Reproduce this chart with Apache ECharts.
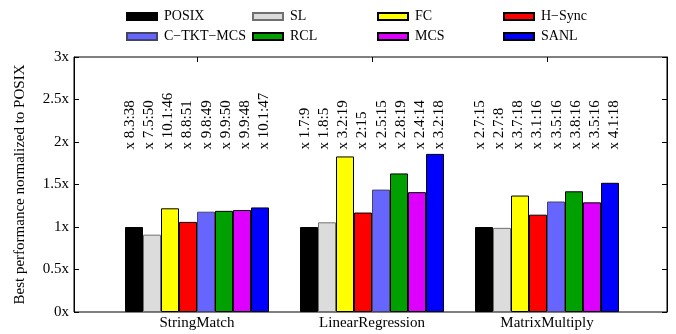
<!DOCTYPE html>
<html>
<head>
<meta charset="utf-8">
<script src="https://cdn.jsdelivr.net/npm/echarts@6/dist/echarts.min.js"></script>
<style>html,body{margin:0;padding:0;background:#fff}#c{width:676px;height:334px}</style>
</head>
<body>
<div id="c"></div>
<script>
const categories = ['StringMatch', 'LinearRegression', 'MatrixMultiply'];
const seriesNames = ['POSIX', 'SL', 'FC', 'H\u2212Sync', 'C\u2212TKT\u2212MCS', 'RCL', 'MCS', 'SANL'];
const posix   = [1.00, 1.00, 1.00];
const sl      = [0.91, 1.055, 0.99];
const fc      = [1.22, 1.83, 1.37];
const hsync   = [1.06, 1.17, 1.145];
const ctktmcs = [1.18, 1.44, 1.30];
const rcl     = [1.19, 1.63, 1.42];
const mcs     = [1.20, 1.41, 1.29];
const sanl    = [1.23, 1.86, 1.52];
const yTicks = [0, 0.5, 1, 1.5, 2, 2.5, 3];
// annotation texts per series, per category
const annPosix   = ['x 8.3:38', 'x 1.7:9', 'x 2.7:15'];
const annSl      = ['x 7.5:50', 'x 1.8:5', 'x 2.7:8'];
const annFc      = ['x 10.1:46', 'x 3.2:19', 'x 3.7:18'];
const annHsync   = ['x 8.8:51', 'x 2:15', 'x 3.1:16'];
const annCtkt    = ['x 9.8:49', 'x 2.5:15', 'x 3.5:16'];
const annRcl     = ['x 9.9:50', 'x 2.8:19', 'x 3.8:16'];
const annMcs     = ['x 9.9:48', 'x 2.4:14', 'x 3.5:16'];
const annSanl    = ['x 10.1:47', 'x 3.2:18', 'x 4.1:18'];

const values = [posix, sl, fc, hsync, ctktmcs, rcl, mcs, sanl];
const anns = [annPosix, annSl, annFc, annHsync, annCtkt, annRcl, annMcs, annSanl];
const colors = ['#000000', '#dcdcdc', '#ffff00', '#ff0000', '#6666ff', '#00a000', '#dd00ff', '#0000ff'];
const borders = ['#000000', '#707070', '#000000', '#000000', '#444466', '#000000', '#000000', '#000000'];
const LABEL_BASE = 1.9;
const FONT = 'Liberation Serif';

const chart = echarts.init(document.getElementById('c'), null, {renderer: 'canvas'});

const series = [];
values.forEach((v, i) => {
  series.push({
    name: seriesNames[i], type: 'bar', xAxisIndex: 1, yAxisIndex: 2,
    data: v, barWidth: 18, barGap: '0%',
    itemStyle: {color: colors[i], borderColor: borders[i], borderWidth: 1},
    emphasis: {disabled: true}, animation: false
  });
});
anns.forEach((a, i) => {
  series.push({
    name: 'ann' + i, type: 'bar', xAxisIndex: 3, yAxisIndex: 2,
    data: a.map(t => ({value: LABEL_BASE, label: {formatter: t}})),
    barWidth: 19.2, barGap: '0%',
    itemStyle: {color: 'rgba(0,0,0,0)', borderWidth: 0},
    label: {show: true, position: 'top', distance: 1, rotate: 90, align: 'left', verticalAlign: 'middle',
            color: '#000', fontFamily: FONT, fontSize: 15},
    emphasis: {disabled: true}, silent: true, animation: false
  });
});

const legendCols = [[0, 4], [1, 5], [2, 6], [3, 7]];
const legendLefts = [126, 252, 377, 503];
const legends = legendCols.map((c, k) => ({
  left: legendLefts[k], top: 9.5, padding: 0, orient: 'vertical', itemWidth: 30, itemHeight: 7, itemGap: 6,
  icon: 'rect', selectedMode: false,
  data: c.map(i => seriesNames[i]),
  textStyle: {fontFamily: FONT, fontSize: 14, color: '#000', padding: [0, 0, 0, 2]}
}));

chart.setOption({
  animation: false,
  textStyle: {fontFamily: FONT},
  legend: legends,
  grid: [
    {left: 74, right: 9, top: 57, bottom: 22, show: true, borderColor: '#000', borderWidth: 1, backgroundColor: 'transparent'},
    {left: 109.5, right: 41.5, top: 57, bottom: 22}
  ],
  xAxis: [
    {gridIndex: 0, type: 'value', min: 0, max: 1, show: false},
    {gridIndex: 1, type: 'category', data: categories, position: 'bottom',
     axisLine: {show: false}, axisTick: {show: false},
     axisLabel: {margin: 4, color: '#000', fontFamily: FONT, fontSize: 15}},
    {gridIndex: 1, type: 'category', data: categories, position: 'top',
     axisLine: {show: false}, axisLabel: {show: false},
     axisTick: {show: true, inside: true, length: 5, alignWithLabel: true, lineStyle: {color: '#000'}}},
    {gridIndex: 1, type: 'category', data: categories, show: false}
  ],
  yAxis: [
    {gridIndex: 0, type: 'value', min: 0, max: 3, interval: 0.5, position: 'left',
     name: 'Best performance normalized to POSIX', nameLocation: 'middle', nameGap: 46,
     nameTextStyle: {fontFamily: FONT, fontSize: 15, color: '#000'},
     axisLine: {show: true, lineStyle: {color: '#000'}},
     axisTick: {show: true, inside: true, length: 5, lineStyle: {color: '#000'}},
     splitLine: {show: false},
     axisLabel: {margin: 5, color: '#000', fontFamily: FONT, fontSize: 15, formatter: v => v + 'x'}},
    {gridIndex: 0, type: 'value', min: 0, max: 3, interval: 0.5, position: 'right',
     axisLine: {show: true, lineStyle: {color: '#000'}},
     axisTick: {show: true, inside: true, length: 5, lineStyle: {color: '#000'}},
     splitLine: {show: false}, axisLabel: {show: false}},
    {gridIndex: 1, type: 'value', min: 0, max: 3, show: false}
  ],
  series: series
});
</script>
</body>
</html>
